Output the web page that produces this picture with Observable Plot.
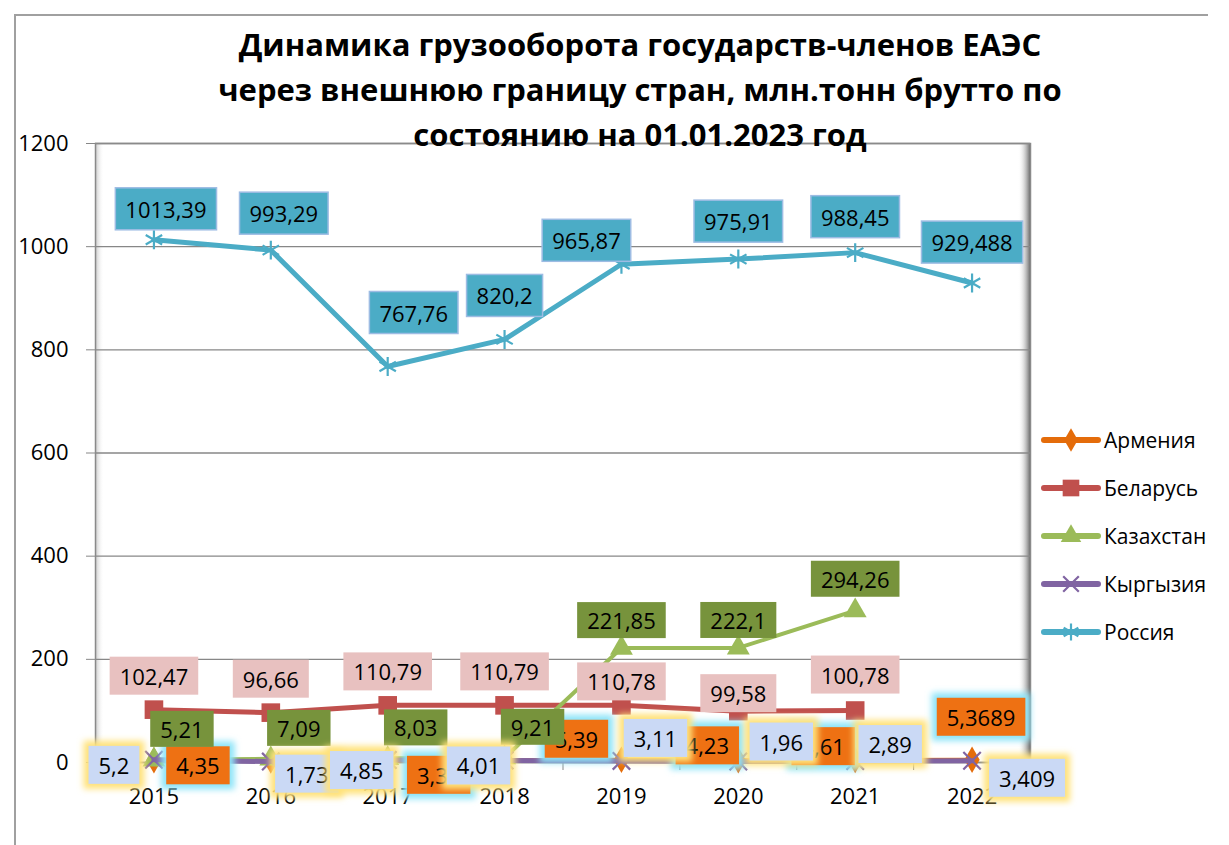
<!DOCTYPE html>
<html>
<head>
<meta charset="utf-8">
<script src="https://cdn.jsdelivr.net/npm/d3@7"></script>
<script src="https://cdn.jsdelivr.net/npm/@observablehq/plot@0.6"></script>
<style>
  body { margin: 0; background: #fff; font-family: "Open Sans", sans-serif; }
  #wrap { position: relative; width: 1229px; height: 845px; overflow: hidden; background: #fff; }
  #border { position: absolute; left: 14px; top: 14px; width: 1192px; height: 840px;
            border-left: 2px solid #a0a0a0; border-top: 2px solid #a0a0a0; }
  #chart { position: absolute; left: 0; top: 0; }
  #title { position: absolute; left: 0; width: 1280px; top: 22px; text-align: center;
           font-weight: 700; font-size: 31px; line-height: 45px; color: #000; z-index: 3; }
  #legend { position: absolute; left: 1040px; top: 416px; z-index: 3; }
  .item { display: flex; align-items: center; height: 48px; font-size: 21px; color: #000; }
  .item svg { margin-right: 2px; }
</style>
</head>
<body>
<div id="wrap">
  <div id="border"></div>
  <div id="chart"></div>
  <div id="title">Динамика грузооборота государств-членов ЕАЭС<br>через внешнюю границу стран, млн.тонн брутто по<br>состоянию на 01.01.2023 год</div>
  <div id="legend"></div>
</div>
<script>
// ---------- data ----------
const years = [2015, 2016, 2017, 2018, 2019, 2020, 2021, 2022];
const armenia = [4.35, 4.0, 3.36, 4.5, 5.39, 4.23, 4.61, 5.3689];
const belarus = [102.47, 96.66, 110.79, 110.79, 110.78, 99.58, 100.78, null];
const kazakhstan = [5.21, 7.09, 8.03, 9.21, 221.85, 222.1, 294.26, null];
const kyrgyzstan = [5.2, 1.73, 4.85, 4.01, 3.11, 1.96, 2.89, 3.409];
const russia = [1013.39, 993.29, 767.76, 820.2, 965.87, 975.91, 988.45, 929.488];
const seriesNames = ["Армения", "Беларусь", "Казахстан", "Кыргызия", "Россия"];
const yTicks = [0, 200, 400, 600, 800, 1000, 1200];
const armeniaUnlabeled = [2016, 2018];

// ---------- styling ----------
const labelOffsets = {
  am: [[44, 7], [0, 0], [51, 16], [0, 0], [-45, -19], [-31, -13], [-32, -12], [9, -41]],
  by: [[0, -32], [0, -32], [0, -32], [0, -32], [0, -22], [0, -16], [0, -34]],
  kz: [[28, -29], [28, -29], [28, -29], [28, -29], [0, -26], [0, -26], [0, -30]],
  kg: [[-40, 7], [36, 14], [-26, 12], [-26, 7], [34, -21], [43, -18], [35, -15], [55, 19]],
  ru: [[12, -29], [13, -35], [26, -52], [0, -42], [-35, -22], [0, -36], [0, -34], [0, -39]]
};
const seriesDefs = [
  {key: "am", values: armenia, color: "#e46c0a", symbol: "diamond", r: 8, fill: true, sw: 4,
   labelFill: "#ee7113", glow: "#8de4f8", hidden: armeniaUnlabeled, py: 4},
  {key: "by", values: belarus, color: "#c0504d", symbol: "square", r: 10.5, fill: true, sw: 5,
   labelFill: "#e8c1c0", glow: null, hidden: [], py: 4},
  {key: "kz", values: kazakhstan, color: "#9bbb59", symbol: "triangle", r: 8.5, fill: true, sw: 4,
   labelFill: "#77933c", glow: null, hidden: [], py: 3},
  {key: "kg", values: kyrgyzstan, color: "#8064a2", symbol: "times", r: 8, fill: false, sw: 5,
   labelFill: "#cad9f5", glow: "#ffe27a", hidden: [], py: 4},
  {key: "ru", values: russia, color: "#4bacc6", symbol: "asterisk", r: 9, fill: false, sw: 5,
   labelFill: "#4bacc6", glow: null, hidden: [], boxStroke: "#9dbce3", py: 6}
];
seriesDefs.forEach((s, k) => s.name = seriesNames[k]);

const fmt = v => String(v).replace(".", ",");
const bounds = d3.range(years.length + 1).map(i => years[0] - 0.5 + i);

const marks = [
  Plot.gridY(yTicks, {stroke: "#878787", strokeOpacity: 1, strokeWidth: 1.3}),
  Plot.frame({stroke: "#8a8a8a", strokeWidth: 1.5}),
  Plot.axisY(yTicks, {tickSize: 9, tickPadding: 18, fontSize: 22, stroke: "#878787", fill: "#000",
    tickFormat: d => String(d), label: null}),
  Plot.axisX(bounds, {tickSize: 8, tickFormat: () => "", stroke: "#878787", label: null}),
  Plot.axisX(years, {tickSize: 0, tickPadding: 26, fontSize: 22, fill: "#000", tickFormat: d => String(d), label: null})
];

for (const s of seriesDefs) {
  const rows = years.map((y, i) => ({year: y, value: s.values[i], i})).filter(d => d.value != null);
  marks.push(Plot.line(rows, {x: "year", y: "value", stroke: s.color, strokeWidth: s.sw, strokeLinejoin: "round", strokeLinecap: "round"}));
  marks.push(Plot.dot(rows, {x: "year", y: "value", symbol: s.symbol, r: s.r,
    fill: s.fill ? s.color : "none", stroke: s.color, strokeWidth: s.fill ? 0 : 2.2}));
}
for (const s of seriesDefs) {
  const rows = years.map((y, i) => ({year: y, value: s.values[i], i})).filter(d => d.value != null);
  for (const d of rows) {
    if (s.hidden.includes(d.year)) continue;
    const [dx, dy] = labelOffsets[s.key][d.i];
    marks.push(Plot.text([d], {x: "year", y: "value", text: r => fmt(r.value), dx, dy,
      fontSize: 22, fill: "#000", ariaDescription: "lbl-" + s.key}));
  }
}

const chart = Plot.plot({
  width: 1229, height: 845,
  marginLeft: 95, marginRight: 199, marginTop: 143, marginBottom: 83,
  x: {type: "linear", domain: [bounds[0], bounds[bounds.length - 1]], label: null},
  y: {domain: [0, 1200], label: null},
  style: {fontFamily: "Open Sans", background: "transparent", overflow: "visible"},
  marks
});
document.getElementById("chart").appendChild(chart);

// ---------- decorations: label boxes, frame shading ----------
const svg = chart.tagName.toLowerCase() === "svg" ? chart : chart.querySelector("svg");
const NS = "http://www.w3.org/2000/svg";
const defs = document.createElementNS(NS, "defs");
defs.innerHTML = `
  <filter id="glow" x="-50%" y="-50%" width="200%" height="200%"><feGaussianBlur stdDeviation="3"/></filter>
  <linearGradient id="shR" x1="0" x2="1"><stop offset="0" stop-color="#ffffff" stop-opacity="0"/><stop offset="1" stop-color="#6e6e6e"/></linearGradient>
  <linearGradient id="shL" x1="0" x2="1"><stop offset="0" stop-color="#c4c4c4"/><stop offset="1" stop-color="#ffffff" stop-opacity="0"/></linearGradient>`;
svg.insertBefore(defs, svg.firstChild);

const xr = svg.scale("x").range, yr = svg.scale("y").range;
const shade = (x, w, grad) => {
  const r = document.createElementNS(NS, "rect");
  r.setAttribute("x", x); r.setAttribute("y", Math.min(...yr));
  r.setAttribute("width", w); r.setAttribute("height", Math.abs(yr[0] - yr[1]));
  r.setAttribute("fill", `url(#${grad})`);
  svg.insertBefore(r, defs.nextSibling);
};
shade(xr[1] - 12, 12, "shR");
shade(xr[0], 9, "shL");

const defsByKey = Object.fromEntries(seriesDefs.map(s => [s.key, s]));
svg.querySelectorAll('g[aria-description^="lbl-"]').forEach(g => {
  const s = defsByKey[g.getAttribute("aria-description").slice(4)];
  g.querySelectorAll("text").forEach(t => {
    const b = t.getBBox();
    const tr = t.getAttribute("transform");
    const px = 10, py = s.py;
    if (s.glow) {
      const gl = document.createElementNS(NS, "rect");
      gl.setAttribute("x", b.x - px - 5); gl.setAttribute("y", b.y - py - 5);
      gl.setAttribute("width", b.width + 2 * px + 10); gl.setAttribute("height", b.height + 2 * py + 10);
      gl.setAttribute("fill", s.glow); gl.setAttribute("filter", "url(#glow)");
      if (tr) gl.setAttribute("transform", tr);
      g.insertBefore(gl, t);
    }
    const r = document.createElementNS(NS, "rect");
    r.setAttribute("x", b.x - px); r.setAttribute("y", b.y - py);
    r.setAttribute("width", b.width + 2 * px); r.setAttribute("height", b.height + 2 * py);
    r.setAttribute("fill", s.labelFill);
    r.setAttribute("stroke", s.boxStroke || "none");
    r.setAttribute("stroke-width", 1.5);
    if (tr) r.setAttribute("transform", tr);
    g.insertBefore(r, t);
  });
});

// ---------- legend ----------
const legend = d3.select("#legend");
const symMap = {diamond: d3.symbolDiamond, square: d3.symbolSquare, triangle: d3.symbolTriangle,
                times: d3.symbolTimes, asterisk: d3.symbolAsterisk};
for (const s of seriesDefs) {
  const item = legend.append("div").attr("class", "item");
  const sv = item.append("svg").attr("width", 62).attr("height", 24);
  sv.append("line").attr("x1", 4).attr("x2", 58).attr("y1", 12).attr("y2", 12)
    .attr("stroke", s.color).attr("stroke-width", 6).attr("stroke-linecap", "round");
  sv.append("path").attr("transform", "translate(31,12)")
    .attr("d", d3.symbol(symMap[s.symbol], Math.PI * s.r * s.r * 0.8)())
    .attr("fill", s.fill ? s.color : "none").attr("stroke", s.color).attr("stroke-width", s.fill ? 0 : 2.2);
  item.append("span").text(s.name);
}
</script>
</body>
</html>
